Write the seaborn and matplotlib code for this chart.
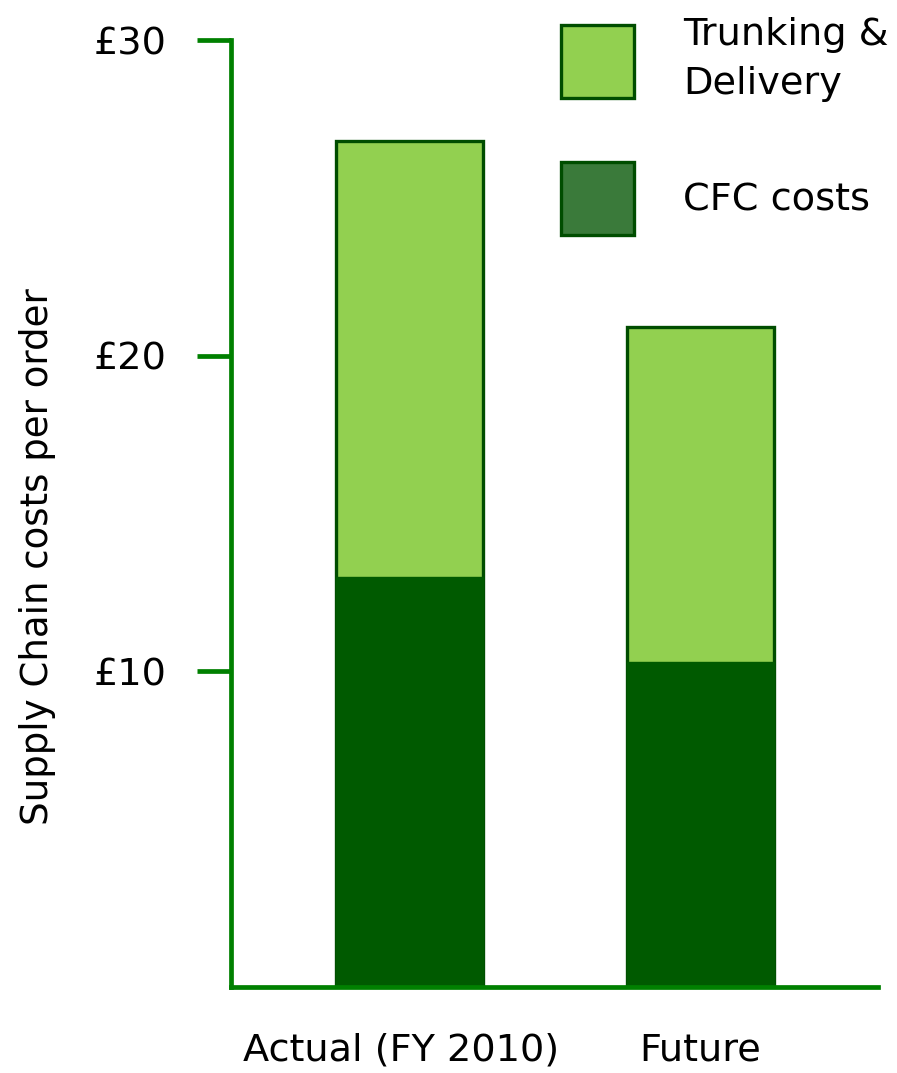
import matplotlib
matplotlib.use("Agg")
import matplotlib.pyplot as plt
from matplotlib.patches import Patch
from matplotlib.transforms import ScaledTranslation
import seaborn as sns
import pandas as pd

# Supply chain cost per order, split into components (GBP)
categories = ["Actual (FY 2010)", "Future"]
cfc_costs = [13.0, 10.3]
trunking_delivery = [13.8, 10.6]
y_ticks = [10, 20, 30]
y_tick_labels = ["£10", "£20", "£30"]

totals = [c + t for c, t in zip(cfc_costs, trunking_delivery)]
df = pd.DataFrame({"category": categories, "cfc": cfc_costs, "total": totals})

sns.set_style("white")
plt.rcParams["font.family"] = ["DejaVu Sans"]
plt.rcParams["text.color"] = "black"
plt.rcParams["xtick.color"] = "black"
plt.rcParams["ytick.color"] = "black"

AXIS_GREEN = "#008000"
LIGHT = "#92D050"
DARK = "#005A00"
LEGEND_DARK = "#3A7A3A"
EDGE = "#004D00"
FS = 27.5

fig = plt.figure(figsize=(8.97, 10.73), dpi=100)
ax = fig.add_axes([0.2575, 0.0801, 0.7215, 0.8826])

# stacked bars: draw the totals, then the CFC part on top
sns.barplot(data=df, x="category", y="total", order=categories, color=LIGHT,
            width=0.505, edgecolor=EDGE, linewidth=2.4, saturation=1, ax=ax)
sns.barplot(data=df, x="category", y="cfc", order=categories, color=DARK,
            width=0.505, edgecolor=DARK, linewidth=1.0, saturation=1, ax=ax)

ax.set_xlim(-0.613, 1.61)
ax.set_ylim(0, 30)
ax.set_yticks(y_ticks)
ax.set_yticklabels(y_tick_labels, fontsize=FS)
ax.tick_params(axis="y", length=24.5, width=3.4, color=AXIS_GREEN, pad=22,
               left=True, labelcolor="black")
ax.tick_params(axis="x", length=0, labelsize=FS, pad=33, labelcolor="black")
ax.set_xlabel("")
ax.set_ylabel("")

# nudge the first category label slightly left
first = ax.get_xticklabels()[0]
first.set_transform(first.get_transform() + ScaledTranslation(-8 / 100, 0, fig.dpi_scale_trans))

for side in ["top", "right"]:
    ax.spines[side].set_visible(False)
for side in ["left", "bottom"]:
    ax.spines[side].set_color(AXIS_GREEN)
    ax.spines[side].set_linewidth(3.4)
    ax.spines[side].set_zorder(5)

fig.text(38 / 897, 1 - 557 / 1073, "Supply Chain costs per order", rotation=90,
         ha="center", va="center", fontsize=26.7, color="black")

handles = [Patch(facecolor=LIGHT, edgecolor=EDGE, linewidth=2.4),
           Patch(facecolor=LEGEND_DARK, edgecolor=EDGE, linewidth=2.4)]
leg = ax.legend(handles, ["Trunking &\nDelivery", "CFC costs"], loc="upper left",
                bbox_to_anchor=(561 / 897, 1 - 17 / 1073), bbox_transform=fig.transFigure,
                frameon=False, fontsize=FS, handlelength=1.9, handleheight=2.55,
                handletextpad=1.3, labelspacing=1.59, borderpad=0, borderaxespad=0)
for t in leg.get_texts():
    t.set_color("black")
    t.set_linespacing(1.45)

fig.savefig("out.png", dpi=100)
